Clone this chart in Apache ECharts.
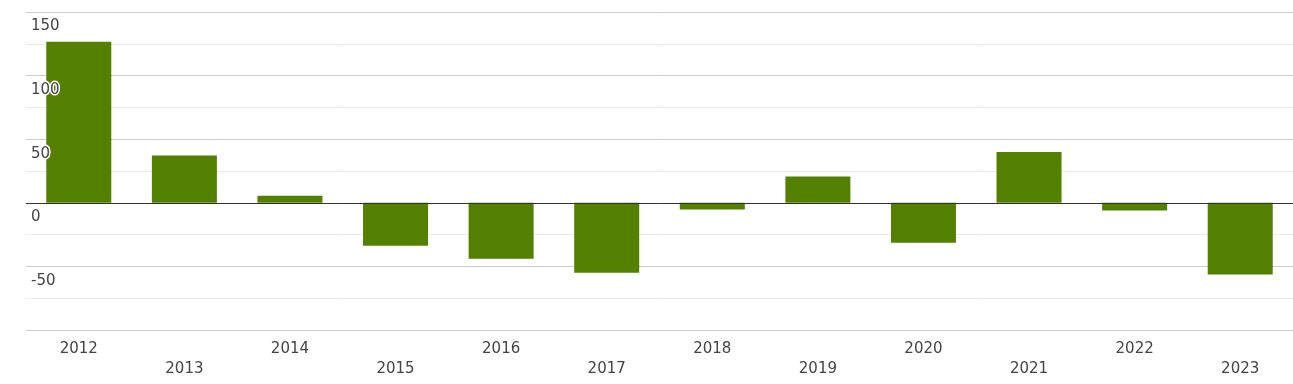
<!DOCTYPE html>
<html>
<head>
<meta charset="utf-8">
<script src="https://cdn.jsdelivr.net/npm/echarts@6/dist/echarts.min.js"></script>
<style>html,body{margin:0;padding:0;background:#fff}#c{width:1293px;height:384px}</style>
</head>
<body>
<div id="c"></div>
<script>
const categories = ['2012','2013','2014','2015','2016','2017','2018','2019','2020','2021','2022','2023'];
const values = [126.7, 37.1, 5.5, -33.8, -44, -55, -5.3, 20.6, -31.4, 40, -6.1, -56.3];
const yTicks = {min: -100, max: 150, interval: 50};

const labelFont = {color: '#444', fontSize: 15, fontFamily: 'DejaVu Sans'};

const chart = echarts.init(document.getElementById('c'));
chart.setOption({
  animation: false,
  grid: {left: 26, right: 0, top: 12, bottom: 54},
  xAxis: {
    type: 'category',
    data: categories,
    axisLine: {show: false},
    axisTick: {show: false},
    axisLabel: Object.assign({
      interval: 0,
      margin: 9,
      lineHeight: 20,
      verticalAlign: 'top',
      formatter: (v, i) => (i % 2 ? '\n' + v : v)
    }, labelFont)
  },
  yAxis: [{
    type: 'value',
    min: yTicks.min, max: yTicks.max, interval: yTicks.interval,
    axisLine: {show: false},
    axisTick: {show: false},
    axisLabel: {show: false},
    splitLine: {lineStyle: {color: '#cccccc', width: 1}},
    minorTick: {show: false, splitNumber: 2},
    minorSplitLine: {show: true, lineStyle: {color: '#ebebeb', width: 1}},
    z: 0
  }, {
    type: 'value',
    position: 'left',
    min: yTicks.min, max: yTicks.max, interval: yTicks.interval,
    axisLine: {show: false},
    axisTick: {show: false},
    splitLine: {show: false},
    axisLabel: Object.assign({
      inside: true,
      margin: 5,
      showMinLabel: false,
      verticalAlign: 'top',
      lineHeight: 15,
      padding: [7, 0, 0, 0],
      textBorderColor: '#fff',
      textBorderWidth: 3
    }, labelFont),
    z: 10
  }],
  series: [{
    type: 'bar',
    data: values,
    barWidth: 65,
    itemStyle: {color: '#548000'},
    z: 2,
    markLine: {
      silent: true,
      symbol: 'none',
      label: {show: false},
      lineStyle: {color: '#333', width: 1, type: 'solid'},
      data: [{yAxis: 0}]
    }
  }]
});
</script>
</body>
</html>
